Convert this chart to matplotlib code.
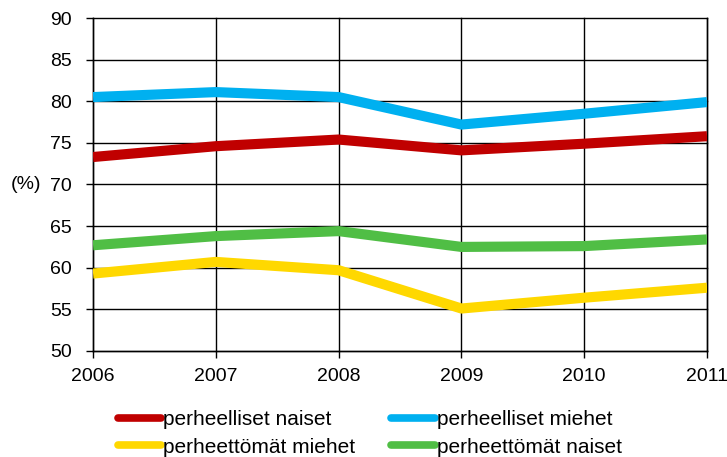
import matplotlib.pyplot as plt
from matplotlib import font_manager

vuodet = [2006, 2007, 2008, 2009, 2010, 2011]
perheelliset_naiset = [73.3, 74.6, 75.4, 74.1, 74.9, 75.8]
perheelliset_miehet = [80.5, 81.1, 80.5, 77.2, 78.5, 79.9]
perheettomat_miehet = [59.3, 60.7, 59.7, 55.1, 56.4, 57.6]
perheettomat_naiset = [62.7, 63.8, 64.4, 62.5, 62.6, 63.4]

nimet = ["perheelliset naiset", "perheelliset miehet",
         "perheettömät miehet", "perheettömät naiset"]
varit = ["#C00000", "#00B0F0", "#FFD800", "#50BE45"]

fam = ["Liberation Sans Narrow", "Liberation Sans", "DejaVu Sans"]
asennetut = {f.name for f in font_manager.fontManager.ttflist}
fam = [f for f in fam if f in asennetut] or ["DejaVu Sans"]
plt.rcParams["font.family"] = fam

fig = plt.figure(figsize=(7.27, 4.57), dpi=100)
ax = fig.add_axes([0.128, 0.232, 0.8445, 0.7286])

sarjat = [perheelliset_naiset, perheelliset_miehet,
          perheettomat_miehet, perheettomat_naiset]
viivat = []
for arvot, nimi, vari in zip(sarjat, nimet, varit):
    l, = ax.plot(vuodet, arvot, color=vari, lw=7.3, label=nimi,
                 solid_capstyle="butt", zorder=3)
    viivat.append(l)

ax.set_xlim(2006, 2011)
ax.set_ylim(50, 90)
ax.set_xticks(vuodet)
ax.set_yticks(range(50, 91, 5))
ax.grid(True, color="black", lw=1)
for g in ax.get_xgridlines() + ax.get_ygridlines():
    g.set_clip_on(False)
ax.spines["top"].set_visible(False)
for s in ["left", "bottom", "right"]:
    ax.spines[s].set_color("black")
    ax.spines[s].set_linewidth(1)
ax.tick_params(axis="both", labelsize=14, length=5, width=1, color="black")
ax.tick_params(axis="x", pad=7)
ax.tick_params(axis="y", pad=10)
ax.set_ylabel("(%)", rotation=0, fontsize=14, va="center")
ax.yaxis.set_label_coords(-0.109, 0.5)

# jarjestys niin etta rivit tulevat kuten alkuperaisessa
jarj = [0, 2, 1, 3]
leg = fig.legend([viivat[i] for i in jarj], [nimet[i] for i in jarj],
                 ncol=2, loc="lower left", bbox_to_anchor=(0.136, -0.04),
                 frameon=False, fontsize=15, handlelength=2.1,
                 handletextpad=0.1, columnspacing=1.7, labelspacing=0.4)
for h in leg.get_lines():
    h.set_solid_capstyle("round")
    h.set_linewidth(5.5)

fig.savefig("out.png", dpi=100)
